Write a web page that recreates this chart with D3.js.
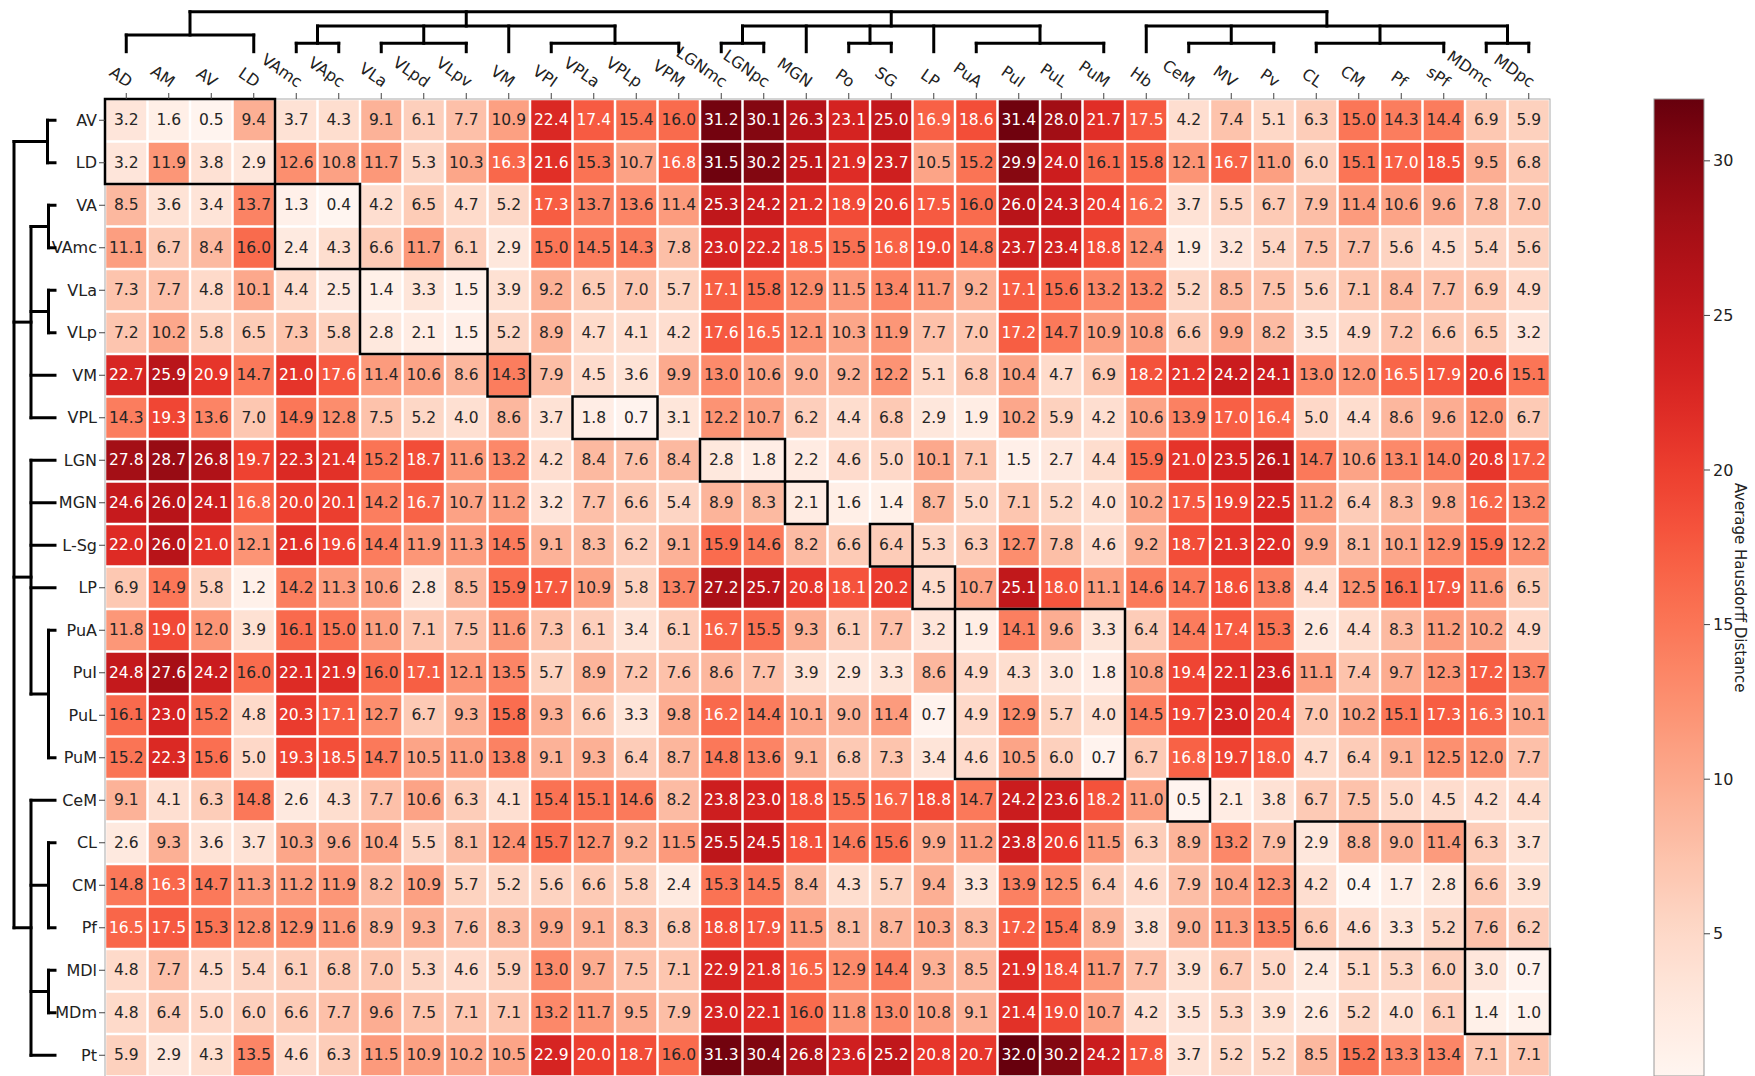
<!DOCTYPE html>
<html><head><meta charset="utf-8">
<script src="https://cdn.jsdelivr.net/npm/d3@7"></script>
<style>html,body{margin:0;padding:0;background:#fff;overflow:hidden}</style>
</head><body>
<svg id="c" width="1755" height="1076"></svg>
<script>
const cols = ["AD","AM","AV","LD","VAmc","VApc","VLa","VLpd","VLpv","VM","VPI","VPLa","VPLp","VPM","LGNmc","LGNpc","MGN","Po","SG","LP","PuA","PuI","PuL","PuM","Hb","CeM","MV","Pv","CL","CM","Pf","sPf","MDmc","MDpc"];
const rows = ["AV","LD","VA","VAmc","VLa","VLp","VM","VPL","LGN","MGN","L-Sg","LP","PuA","PuI","PuL","PuM","CeM","CL","CM","Pf","MDl","MDm","Pt"];

const vAV   = [3.2,1.6,0.5,9.4,3.7,4.3,9.1,6.1,7.7,10.9,22.4,17.4,15.4,16.0,31.2,30.1,26.3,23.1,25.0,16.9,18.6,31.4,28.0,21.7,17.5,4.2,7.4,5.1,6.3,15.0,14.3,14.4,6.9,5.9];
const vLD   = [3.2,11.9,3.8,2.9,12.6,10.8,11.7,5.3,10.3,16.3,21.6,15.3,10.7,16.8,31.5,30.2,25.1,21.9,23.7,10.5,15.2,29.9,24.0,16.1,15.8,12.1,16.7,11.0,6.0,15.1,17.0,18.5,9.5,6.8];
const vVA   = [8.5,3.6,3.4,13.7,1.3,0.4,4.2,6.5,4.7,5.2,17.3,13.7,13.6,11.4,25.3,24.2,21.2,18.9,20.6,17.5,16.0,26.0,24.3,20.4,16.2,3.7,5.5,6.7,7.9,11.4,10.6,9.6,7.8,7.0];
const vVAmc = [11.1,6.7,8.4,16.0,2.4,4.3,6.6,11.7,6.1,2.9,15.0,14.5,14.3,7.8,23.0,22.2,18.5,15.5,16.8,19.0,14.8,23.7,23.4,18.8,12.4,1.9,3.2,5.4,7.5,7.7,5.6,4.5,5.4,5.6];
const vVLa  = [7.3,7.7,4.8,10.1,4.4,2.5,1.4,3.3,1.5,3.9,9.2,6.5,7.0,5.7,17.1,15.8,12.9,11.5,13.4,11.7,9.2,17.1,15.6,13.2,13.2,5.2,8.5,7.5,5.6,7.1,8.4,7.7,6.9,4.9];
const vVLp  = [7.2,10.2,5.8,6.5,7.3,5.8,2.8,2.1,1.5,5.2,8.9,4.7,4.1,4.2,17.6,16.5,12.1,10.3,11.9,7.7,7.0,17.2,14.7,10.9,10.8,6.6,9.9,8.2,3.5,4.9,7.2,6.6,6.5,3.2];
const vVM   = [22.7,25.9,20.9,14.7,21.0,17.6,11.4,10.6,8.6,14.3,7.9,4.5,3.6,9.9,13.0,10.6,9.0,9.2,12.2,5.1,6.8,10.4,4.7,6.9,18.2,21.2,24.2,24.1,13.0,12.0,16.5,17.9,20.6,15.1];
const vVPL  = [14.3,19.3,13.6,7.0,14.9,12.8,7.5,5.2,4.0,8.6,3.7,1.8,0.7,3.1,12.2,10.7,6.2,4.4,6.8,2.9,1.9,10.2,5.9,4.2,10.6,13.9,17.0,16.4,5.0,4.4,8.6,9.6,12.0,6.7];
const vLGN  = [27.8,28.7,26.8,19.7,22.3,21.4,15.2,18.7,11.6,13.2,4.2,8.4,7.6,8.4,2.8,1.8,2.2,4.6,5.0,10.1,7.1,1.5,2.7,4.4,15.9,21.0,23.5,26.1,14.7,10.6,13.1,14.0,20.8,17.2];
const vMGN  = [24.6,26.0,24.1,16.8,20.0,20.1,14.2,16.7,10.7,11.2,3.2,7.7,6.6,5.4,8.9,8.3,2.1,1.6,1.4,8.7,5.0,7.1,5.2,4.0,10.2,17.5,19.9,22.5,11.2,6.4,8.3,9.8,16.2,13.2];
const vLSg  = [22.0,26.0,21.0,12.1,21.6,19.6,14.4,11.9,11.3,14.5,9.1,8.3,6.2,9.1,15.9,14.6,8.2,6.6,6.4,5.3,6.3,12.7,7.8,4.6,9.2,18.7,21.3,22.0,9.9,8.1,10.1,12.9,15.9,12.2];
const vLP   = [6.9,14.9,5.8,1.2,14.2,11.3,10.6,2.8,8.5,15.9,17.7,10.9,5.8,13.7,27.2,25.7,20.8,18.1,20.2,4.5,10.7,25.1,18.0,11.1,14.6,14.7,18.6,13.8,4.4,12.5,16.1,17.9,11.6,6.5];
const vPuA  = [11.8,19.0,12.0,3.9,16.1,15.0,11.0,7.1,7.5,11.6,7.3,6.1,3.4,6.1,16.7,15.5,9.3,6.1,7.7,3.2,1.9,14.1,9.6,3.3,6.4,14.4,17.4,15.3,2.6,4.4,8.3,11.2,10.2,4.9];
const vPuI  = [24.8,27.6,24.2,16.0,22.1,21.9,16.0,17.1,12.1,13.5,5.7,8.9,7.2,7.6,8.6,7.7,3.9,2.9,3.3,8.6,4.9,4.3,3.0,1.8,10.8,19.4,22.1,23.6,11.1,7.4,9.7,12.3,17.2,13.7];
const vPuL  = [16.1,23.0,15.2,4.8,20.3,17.1,12.7,6.7,9.3,15.8,9.3,6.6,3.3,9.8,16.2,14.4,10.1,9.0,11.4,0.7,4.9,12.9,5.7,4.0,14.5,19.7,23.0,20.4,7.0,10.2,15.1,17.3,16.3,10.1];
const vPuM  = [15.2,22.3,15.6,5.0,19.3,18.5,14.7,10.5,11.0,13.8,9.1,9.3,6.4,8.7,14.8,13.6,9.1,6.8,7.3,3.4,4.6,10.5,6.0,0.7,6.7,16.8,19.7,18.0,4.7,6.4,9.1,12.5,12.0,7.7];
const vCeM  = [9.1,4.1,6.3,14.8,2.6,4.3,7.7,10.6,6.3,4.1,15.4,15.1,14.6,8.2,23.8,23.0,18.8,15.5,16.7,18.8,14.7,24.2,23.6,18.2,11.0,0.5,2.1,3.8,6.7,7.5,5.0,4.5,4.2,4.4];
const vCL   = [2.6,9.3,3.6,3.7,10.3,9.6,10.4,5.5,8.1,12.4,15.7,12.7,9.2,11.5,25.5,24.5,18.1,14.6,15.6,9.9,11.2,23.8,20.6,11.5,6.3,8.9,13.2,7.9,2.9,8.8,9.0,11.4,6.3,3.7];
const vCM   = [14.8,16.3,14.7,11.3,11.2,11.9,8.2,10.9,5.7,5.2,5.6,6.6,5.8,2.4,15.3,14.5,8.4,4.3,5.7,9.4,3.3,13.9,12.5,6.4,4.6,7.9,10.4,12.3,4.2,0.4,1.7,2.8,6.6,3.9];
const vPf   = [16.5,17.5,15.3,12.8,12.9,11.6,8.9,9.3,7.6,8.3,9.9,9.1,8.3,6.8,18.8,17.9,11.5,8.1,8.7,10.3,8.3,17.2,15.4,8.9,3.8,9.0,11.3,13.5,6.6,4.6,3.3,5.2,7.6,6.2];
const vMDl  = [4.8,7.7,4.5,5.4,6.1,6.8,7.0,5.3,4.6,5.9,13.0,9.7,7.5,7.1,22.9,21.8,16.5,12.9,14.4,9.3,8.5,21.9,18.4,11.7,7.7,3.9,6.7,5.0,2.4,5.1,5.3,6.0,3.0,0.7];
const vMDm  = [4.8,6.4,5.0,6.0,6.6,7.7,9.6,7.5,7.1,7.1,13.2,11.7,9.5,7.9,23.0,22.1,16.0,11.8,13.0,10.8,9.1,21.4,19.0,10.7,4.2,3.5,5.3,3.9,2.6,5.2,4.0,6.1,1.4,1.0];
const vPt   = [5.9,2.9,4.3,13.5,4.6,6.3,11.5,10.9,10.2,10.5,22.9,20.0,18.7,16.0,31.3,30.4,26.8,23.6,25.2,20.8,20.7,32.0,30.2,24.2,17.8,3.7,5.2,5.2,8.5,15.2,13.3,13.4,7.1,7.1];

const matrix = [vAV,vLD,vVA,vVAmc,vVLa,vVLp,vVM,vVPL,vLGN,vMGN,vLSg,vLP,vPuA,vPuI,vPuL,vPuM,vCeM,vCL,vCM,vPf,vMDl,vMDm,vPt];

// highlighted blocks: [firstRow, lastRow, firstCol, lastCol]
const boxes = [
  ["AV","LD","AD","LD"],["VA","VAmc","VAmc","VApc"],["VLa","VLp","VLa","VLpv"],["VM","VM","VM","VM"],
  ["VPL","VPL","VPLa","VPLp"],["LGN","LGN","LGNmc","LGNpc"],["MGN","MGN","MGN","MGN"],["L-Sg","L-Sg","SG","SG"],
  ["LP","LP","LP","LP"],["PuA","PuM","PuA","PuM"],["CeM","CeM","CeM","CeM"],["CL","Pf","CL","sPf"],["MDl","MDm","MDmc","MDpc"]
];

// dendrograms: {k:[...]} = joined clusters, {b:[first,last]} = bracket over a run of leaves
const colTree = {k:[{b:["AD","LD"]},
  {k:[{b:["VAmc","VApc"]},{b:["VLa","VLpv"]},"VM",{b:["VPI","VPM"]}]},
  {k:[{b:["LGNmc","LGNpc"]},"MGN",{b:["Po","SG"]},"LP",{b:["PuA","PuM"]}]},
  {k:["Hb",{b:["CeM","Pv"]},{b:["CL","sPf"]},{b:["MDmc","MDpc"]}]}]};
const rowTree = {k:[{b:["AV","LD"]},
  {k:[{b:["VA","VAmc"]},{b:["VLa","VLp"]},"VM","VPL"]},
  {k:["LGN","MGN","L-Sg","LP",{b:["PuA","PuM"]}]},
  {k:["CeM",{b:["CL","Pf"]},{b:["MDl","MDm"]},"Pt"]}]};

const cbTicks = [5,10,15,20,25,30];
const cbLabel = "Average Hausdorff Distance";

// ---------- drawing ----------
const svg = d3.select("#c");
const FONT = "DejaVu Sans, sans-serif";
const x = d3.scaleBand().domain(cols).range([105,1550]);
const y = d3.scaleBand().domain(rows).range([99,1076.5]);
const bw = x.bandwidth(), bh = y.bandwidth();
const all = matrix.flat();
const vmin = d3.min(all), vmax = d3.max(all);
const color = d3.scaleSequential(d3.interpolateReds).domain([vmin, vmax]);

const cells = [];
rows.forEach((r,i)=>cols.forEach((c,j)=>cells.push({r,c,v:matrix[i][j]})));

const g = svg.append("g");
g.selectAll("rect.cell").data(cells).join("rect")
  .attr("x",d=>x(d.c)+1.25).attr("y",d=>y(d.r)+1.25)
  .attr("width",bw-2.5).attr("height",bh-2.5)
  .attr("fill",d=>color(d.v));
g.selectAll("text.val").data(cells).join("text")
  .attr("x",d=>x(d.c)+bw/2).attr("y",d=>y(d.r)+bh/2)
  .attr("text-anchor","middle").attr("dominant-baseline","central")
  .attr("font-family",FONT).attr("font-size",15.5)
  .attr("fill",d=>d.v>16.15?"#ffffff":"#262626")
  .text(d=>d.v.toFixed(1));

// frame
svg.append("rect").attr("x",105).attr("y",99).attr("width",1445).attr("height",978)
  .attr("fill","none").attr("stroke","#aaa").attr("stroke-width",1);

// boxes
svg.selectAll("rect.box").data(boxes).join("rect")
  .attr("x",d=>x(d[2])).attr("y",d=>y(d[0]))
  .attr("width",d=>x(d[3])+bw-x(d[2])).attr("height",d=>y(d[1])+bh-y(d[0]))
  .attr("fill","none").attr("stroke","#000").attr("stroke-width",2.5);

// ticks & labels
svg.selectAll("line.rt").data(rows).join("line")
  .attr("x1",99).attr("x2",105).attr("y1",d=>y(d)+bh/2).attr("y2",d=>y(d)+bh/2)
  .attr("stroke","#444").attr("stroke-width",1);
svg.selectAll("text.rl").data(rows).join("text")
  .attr("x",97).attr("y",d=>y(d)+bh/2).attr("text-anchor","end").attr("dominant-baseline","central")
  .attr("font-family",FONT).attr("font-size",16).attr("fill","#222").text(d=>d);
svg.selectAll("line.ct").data(cols).join("line")
  .attr("y1",93).attr("y2",99).attr("x1",d=>x(d)+bw/2).attr("x2",d=>x(d)+bw/2)
  .attr("stroke","#444").attr("stroke-width",1);
svg.selectAll("text.cl").data(cols).join("text")
  .attr("transform",d=>`translate(${x(d)+bw/2+1},88) rotate(35)`)
  .attr("text-anchor","end")
  .attr("font-family",FONT).attr("font-size",16).attr("fill","#222").text(d=>d);

// dendrograms
function drawTree(tree, center, levels, bracketPos, leafPos, toXY){
  const segs = [];
  function rec(node, depth){
    if (typeof node === "string") return {c:center(node), p:leafPos};
    if (node.b){
      const c1 = center(node.b[0]), c2 = center(node.b[1]), p = bracketPos[depth];
      segs.push([c1,p,c2,p],[c1,p,c1,leafPos],[c2,p,c2,leafPos]);
      return {c:(c1+c2)/2, p};
    }
    const kids = node.k.map(k=>rec(k, depth+1));
    const p = levels[depth];
    const c1 = kids[0].c, c2 = kids[kids.length-1].c;
    segs.push([c1,p,c2,p]);
    kids.forEach(k=>segs.push([k.c,p,k.c,k.p]));
    return {c:(c1+c2)/2, p};
  }
  rec(tree,0);
  svg.append("g").selectAll("line").data(segs).join("line")
    .each(function(s){
      const a = toXY(s[0],s[1]), b = toXY(s[2],s[3]);
      d3.select(this).attr("x1",a[0]).attr("y1",a[1]).attr("x2",b[0]).attr("y2",b[1]);
    })
    .attr("stroke","#000").attr("stroke-width",3).attr("stroke-linecap","square");
}
drawTree(colTree, c=>x(c)+bw/2, [11.7,26], {1:35,2:43.3}, 51.7, (c,p)=>[c,p]);
drawTree(rowTree, r=>y(r)+bh/2, [14,31], {1:47.5,2:48.5}, 55, (c,p)=>[p,c]);

// colorbar
const cbX = 1654, cbW = 50, cbTop = 99, cbBot = 1076;
const cy = d3.scaleLinear().domain([vmin,vmax]).range([cbBot,cbTop]);
const grad = svg.append("defs").append("linearGradient").attr("id","cbg")
  .attr("x1","0").attr("y1","1").attr("x2","0").attr("y2","0");
d3.range(0,1.0001,0.02).forEach(t=>grad.append("stop").attr("offset",t)
  .attr("stop-color",color(vmin+t*(vmax-vmin))));
svg.append("rect").attr("x",cbX).attr("y",cbTop).attr("width",cbW).attr("height",cbBot-cbTop)
  .attr("fill","url(#cbg)").attr("stroke","#999").attr("stroke-width",1);
svg.selectAll("line.cbt").data(cbTicks).join("line")
  .attr("x1",cbX+cbW).attr("x2",cbX+cbW+6).attr("y1",d=>cy(d)).attr("y2",d=>cy(d))
  .attr("stroke","#444");
svg.selectAll("text.cbl").data(cbTicks).join("text")
  .attr("x",cbX+cbW+9).attr("y",d=>cy(d)).attr("dominant-baseline","central")
  .attr("font-family",FONT).attr("font-size",16).attr("fill","#222").text(d=>d);
svg.append("text").attr("transform",`translate(1740,${(cbTop+cbBot)/2}) rotate(90)`)
  .attr("text-anchor","middle").attr("dominant-baseline","central")
  .attr("font-family",FONT).attr("font-size",15).attr("fill","#222").text(cbLabel);
</script>
</body></html>
